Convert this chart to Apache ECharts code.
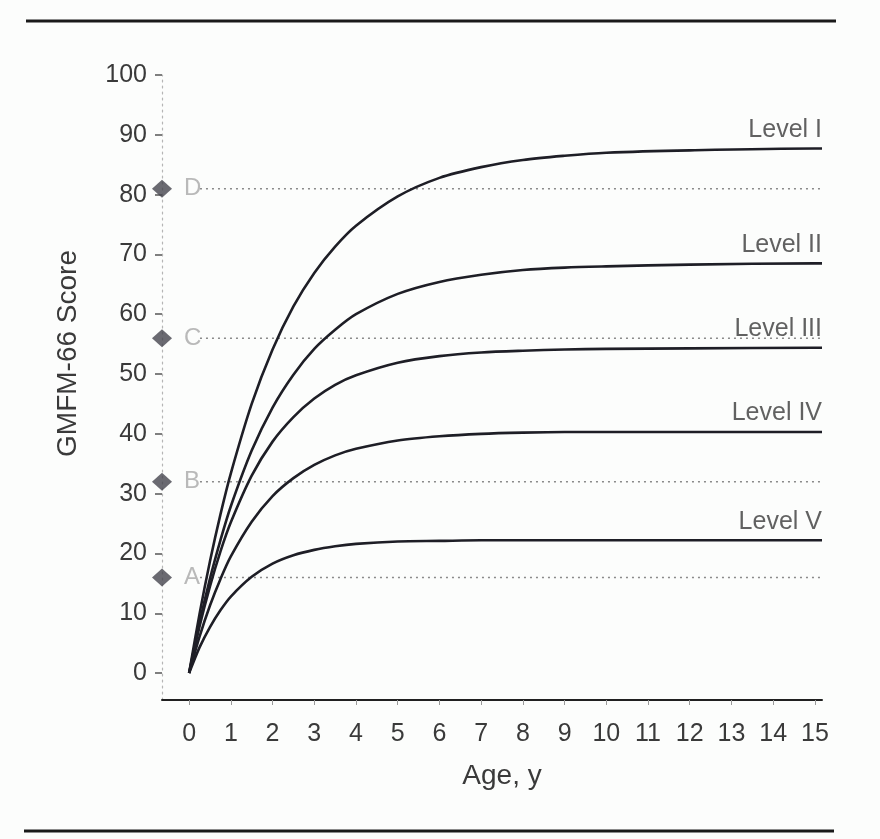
<!DOCTYPE html>
<html>
<head>
<meta charset="utf-8">
<script src="https://cdn.jsdelivr.net/npm/echarts@6/dist/echarts.min.js"></script>
<style>
html,body{margin:0;padding:0;background:#fcfdfc;}
#chart{width:880px;height:839px;}
</style>
</head>
<body>
<div id="chart"></div>
<script>
// ---- data ----
const ages = [0, 0.25, 0.5, 0.75, 1, 1.5, 2, 2.5, 3, 3.5, 4, 5, 6, 7, 8, 9, 10, 12, 15, 15.17];
const levelI   = [0, 9.9, 18.7, 26.5, 33.4, 45.0, 54.1, 61.3, 66.9, 71.3, 74.8, 79.7, 82.8, 84.6, 85.8, 86.5, 87.0, 87.4, 87.7, 87.7];
const levelII  = [0, 8.4, 15.8, 22.2, 27.9, 37.2, 44.4, 49.9, 54.2, 57.4, 60.0, 63.4, 65.4, 66.6, 67.4, 67.8, 68.0, 68.3, 68.5, 68.5];
const levelIII = [0, 7.8, 14.5, 20.3, 25.2, 33.0, 38.7, 42.8, 45.9, 48.2, 49.8, 51.9, 53.0, 53.6, 53.9, 54.1, 54.2, 54.3, 54.4, 54.4];
const levelIV  = [0, 6.1, 11.3, 15.7, 19.5, 25.3, 29.6, 32.6, 34.8, 36.4, 37.5, 38.9, 39.6, 40.0, 40.2, 40.3, 40.3, 40.3, 40.3, 40.3];
const levelV   = [0, 4.3, 7.7, 10.5, 12.8, 16.1, 18.3, 19.7, 20.6, 21.2, 21.6, 22.0, 22.1, 22.2, 22.2, 22.2, 22.2, 22.2, 22.2, 22.2];
const levelNames = ['Level I', 'Level II', 'Level III', 'Level IV', 'Level V'];
const refLetters = ['A', 'B', 'C', 'D'];
const refValues  = [16, 32, 56, 81];
const refLineStart = 0.26;
const refLineEnd = 15.17;
const xTicks = [0,1,2,3,4,5,6,7,8,9,10,11,12,13,14,15];
const yTicks = [0,10,20,30,40,50,60,70,80,90,100];
const xMin = -0.65, xMax = 15.17, yMin = -4.5, yMax = 100;

const FONT = '"Liberation Sans", Arial, sans-serif';
const TXT = '#3a3a3a';
const LINE = '#1e1e26';

const levels = [levelI, levelII, levelIII, levelIV, levelV];
const series = [];
levels.forEach((vals, i) => {
  series.push({
    type: 'line', name: levelNames[i], data: ages.map((a, j) => [a, vals[j]]),
    smooth: 0.3, showSymbol: false, symbol: 'none',
    lineStyle: { color: LINE, width: 2.6 }, z: 3, silent: true
  });
});
// level labels at the right end of each curve
series.push({
  type: 'scatter', symbolSize: 0, silent: true, z: 5,
  data: levels.map((vals, i) => ({ value: [ages[ages.length - 1], vals[vals.length - 1]], name: levelNames[i] })),
  label: {
    show: true, formatter: '{b}', position: [0, -6], align: 'right', verticalAlign: 'bottom',
    color: TXT, fontSize: 25, fontFamily: FONT
  }
});
refValues.forEach((v) => {
  series.push({
    type: 'line', data: [[refLineStart, v], [refLineEnd, v]], symbol: 'none',
    lineStyle: { color: '#8a8a8a', width: 1.5, type: [2, 4] }, z: 2, silent: true
  });
});
series.push({
  type: 'scatter', symbol: 'diamond', symbolSize: [20, 18],
  data: refValues.map((v, i) => ({ value: [xMin, v], name: refLetters[i] })),
  itemStyle: { color: '#45454d' },
  label: { show: true, position: 'right', distance: 12, formatter: '{b}', color: '#a8a8a8', fontSize: 24, fontFamily: FONT },
  clip: false, z: 4, silent: true
});

const chart = echarts.init(document.getElementById('chart'), null, { renderer: 'canvas' });
chart.setOption({
  backgroundColor: '#fcfdfc',
  animation: false,
  grid: { left: 162, right: 58, top: 75, bottom: 139, containLabel: false },
  xAxis: {
    type: 'value', min: xMin, max: xMax,
    name: 'Age, y', nameLocation: 'middle', nameGap: 62,
    nameTextStyle: { color: TXT, fontSize: 28, fontFamily: FONT, padding: [0, 0, 0, 20] },
    axisLine: { show: true, onZero: false, lineStyle: { color: '#202020', width: 2 } },
    axisTick: { show: true, customValues: xTicks, length: 5, inside: false, lineStyle: { color: '#999', width: 1 } },
    axisLabel: { customValues: xTicks, margin: 22, color: TXT, fontSize: 25, fontFamily: FONT, verticalAlign: 'top' },
    splitLine: { show: false }
  },
  yAxis: {
    type: 'value', min: yMin, max: yMax,
    name: 'GMFM-66 Score', nameLocation: 'middle', nameGap: 80, nameRotate: 90,
    nameTextStyle: { color: TXT, fontSize: 28, fontFamily: FONT, padding: [0, 0, 0, 68] },
    axisLine: { show: true, onZero: false, lineStyle: { color: '#b5b5b5', width: 1.2, type: [2, 4] } },
    axisTick: { show: true, customValues: yTicks, length: 7, lineStyle: { color: '#555', width: 1.5 } },
    axisLabel: { customValues: yTicks, margin: 15, color: TXT, fontSize: 25, fontFamily: FONT },
    splitLine: { show: false }
  },
  graphic: [
    { type: 'line', shape: { x1: 26, y1: 21, x2: 836, y2: 21 }, style: { stroke: '#1a1a1a', lineWidth: 3 } },
    { type: 'line', shape: { x1: 24, y1: 831, x2: 834, y2: 831 }, style: { stroke: '#1a1a1a', lineWidth: 3 } }
  ],
  series: series
});
</script>
</body>
</html>
